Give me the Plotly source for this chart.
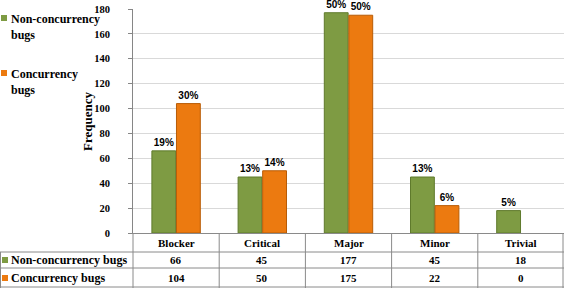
import plotly.graph_objects as go

categories = ["Blocker", "Critical", "Major", "Minor", "Trivial"]
series_names = ["Non-concurrency bugs", "Concurrency bugs"]
non_conc = [66, 45, 177, 45, 18]
conc = [104, 50, 175, 22, 0]
non_conc_pct = ["19%", "13%", "50%", "13%", "5%"]
conc_pct = ["30%", "14%", "50%", "6%", ""]
y_ticks = [0, 20, 40, 60, 80, 100, 120, 140, 160, 180]
y_title = "Frequency"

GREEN = "#7E9B43"
GREEN_D = "#5F7A2C"
ORANGE = "#EC7A10"
ORANGE_D = "#B85C06"
SERIF = "Liberation Serif, Times New Roman, serif"
SANS = "Liberation Sans, Arial, sans-serif"

W, H = 564, 288
L, R, T, B = 133, 0, 9, 55
pw = W - L - R
ph = H - T - B


def px_x(px):
    return (px - L) / pw


def px_y(py):
    return (H - B - py) / ph


fig = go.Figure()
series = [(non_conc, non_conc_pct, GREEN, GREEN_D), (conc, conc_pct, ORANGE, ORANGE_D)]
for name, (vals, pct, c, cd) in zip(series_names, series):
    fig.add_trace(go.Bar(
        x=categories, y=vals, name=name, text=pct,
        textposition="outside", cliponaxis=False,
        textfont=dict(family=SANS, size=10, color="black", weight="bold"),
        marker=dict(color=c, line=dict(color=cd, width=[1 if v > 0 else 0 for v in vals])),
        showlegend=False,
    ))

shapes = []
annotations = []
line_col = "#8A8A8A"

# table geometry (pixels)
col_w = pw / len(categories)
row_lines = [252, 268, 287]
for py in row_lines:
    shapes.append(dict(type="line", xref="paper", yref="paper",
                       x0=px_x(0), x1=px_x(W), y0=px_y(py), y1=px_y(py),
                       line=dict(color=line_col, width=1)))
for i in range(len(categories) + 1):
    px = L + i * col_w
    if i == len(categories):
        px = W - 1
    shapes.append(dict(type="line", xref="paper", yref="paper",
                       x0=px_x(px), x1=px_x(px), y0=px_y(233), y1=px_y(288),
                       line=dict(color=line_col, width=1)))
shapes.append(dict(type="line", xref="paper", yref="paper",
                   x0=px_x(0.5), x1=px_x(0.5), y0=px_y(252), y1=px_y(288),
                   line=dict(color=line_col, width=1)))

tfont = dict(family=SERIF, size=11, color="black", weight="bold")
for i, cat in enumerate(categories):
    cx = px_x(L + (i + 0.5) * col_w)
    for txt, py in [(cat, 243), (str(non_conc[i]), 260), (str(conc[i]), 278)]:
        annotations.append(dict(x=cx, y=px_y(py), xref="paper", yref="paper", text=txt,
                                xanchor="center", yanchor="middle",
                                showarrow=False, font=tfont))

# table row labels with legend keys
for name, py, c in [(series_names[0], 260, GREEN), (series_names[1], 278, ORANGE)]:
    shapes.append(dict(type="rect", xref="paper", yref="paper",
                       x0=px_x(2), x1=px_x(8), y0=px_y(py - 3), y1=px_y(py + 3),
                       fillcolor=c, line=dict(width=0)))
    annotations.append(dict(x=px_x(9), y=px_y(py), xref="paper", yref="paper", text=name,
                            xanchor="left", yanchor="middle", showarrow=False,
                            font=dict(family=SERIF, size=12, color="black", weight="bold")))

# legend (top-left)
lfont = dict(family=SERIF, size=12, color="black", weight="bold")
for name, py, c in [(series_names[0], 18, GREEN), (series_names[1], 73, ORANGE)]:
    shapes.append(dict(type="rect", xref="paper", yref="paper",
                       x0=px_x(1), x1=px_x(7), y0=px_y(py - 3), y1=px_y(py + 3),
                       fillcolor=c, line=dict(width=0)))
    annotations.append(dict(x=px_x(9), y=px_y(py - 8), xref="paper", yref="paper",
                            text=name.replace(" bugs", "<br>bugs"),
                            xanchor="left", yanchor="top", align="left", showarrow=False,
                            font=lfont))

# y-axis title
annotations.append(dict(x=px_x(87), y=px_y(122), xref="paper", yref="paper", text=y_title,
                        textangle=-90, xanchor="center", yanchor="middle", showarrow=False,
                        font=dict(family=SERIF, size=13, color="black", weight="bold")))

fig.update_layout(
    width=W, height=H,
    margin=dict(l=L, r=R, t=T, b=B, pad=0),
    paper_bgcolor="white", plot_bgcolor="white",
    barmode="group", bargap=0.43, bargroupgap=0.03,
    shapes=shapes, annotations=annotations,
    xaxis=dict(showticklabels=False, showgrid=False, ticks="",
               showline=True, linecolor=line_col, linewidth=1,
               range=[-0.5, 4.5], fixedrange=True),
    yaxis=dict(range=[0, 180], tickvals=y_ticks, showgrid=True, gridcolor="#D9D9D9",
               gridwidth=1, zeroline=False, showline=True, linecolor="#868686",
               linewidth=1, ticks="outside", ticklen=4, tickcolor="#868686",
               ticklabelstandoff=16,
               tickfont=dict(family=SERIF, size=10.5, color="black", weight="bold"),
               fixedrange=True),
)

fig.write_html("out.html", config={"displayModeBar": False},
               post_script="document.body.style.margin='0';document.body.style.overflow='hidden';")
